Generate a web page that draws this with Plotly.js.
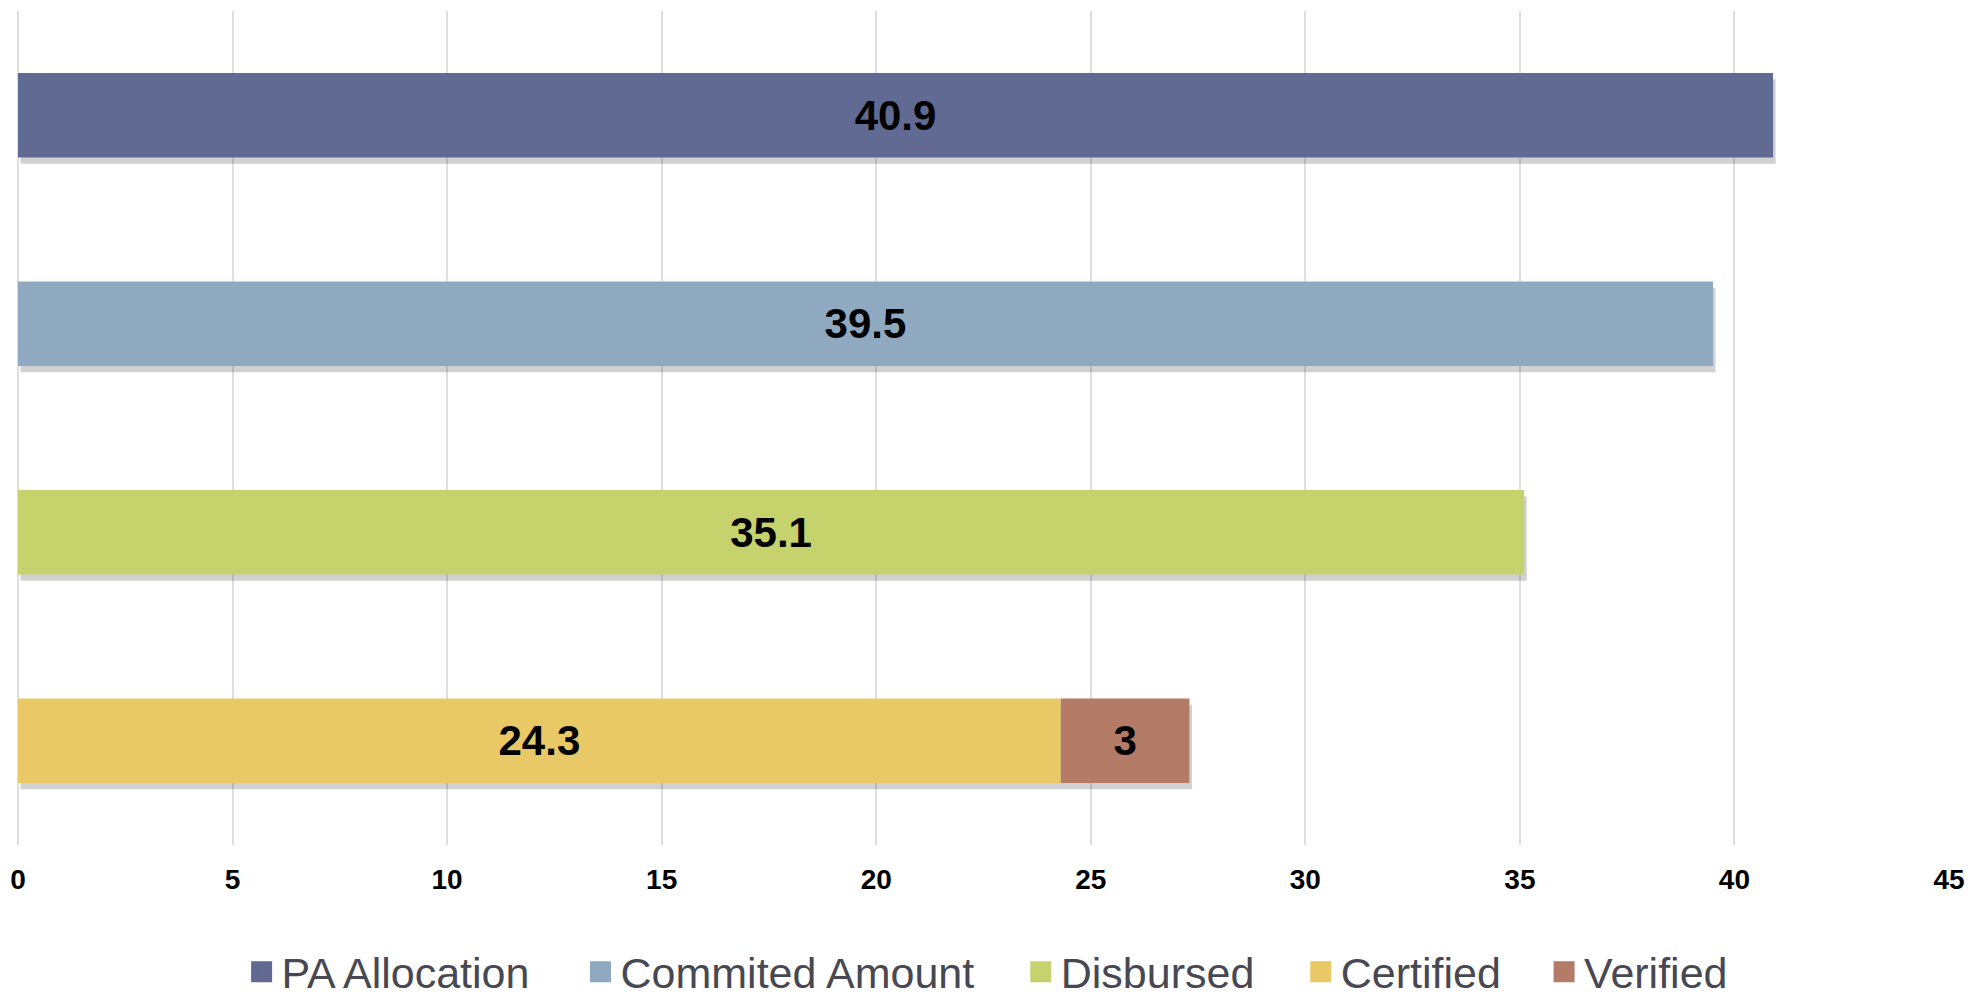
<!DOCTYPE html>
<html>
<head>
<meta charset="utf-8">
<script src="https://cdn.plot.ly/plotly-3.0.1.min.js"></script>
<style>html,body{margin:0;padding:0;background:#fff;}#chart{width:1970px;height:996px;}</style>
</head>
<body>
<div id="chart"></div>
<script>
// Data
var rows = ["PA Allocation", "Commited Amount", "Disbursed", "Certified"];
var seriesNames = ["PA Allocation", "Commited Amount", "Disbursed", "Certified", "Verified"];
var seriesRows = ["PA Allocation", "Commited Amount", "Disbursed", "Certified", "Certified"];
var seriesValues = [40.9, 39.5, 35.1, 24.3, 3];
var seriesColors = ["#616a93", "#8fa9c1", "#c6d26c", "#e8c965", "#b47b67"];
var xTicks = [0, 5, 10, 15, 20, 25, 30, 35, 40, 45];

var FONT = '"Liberation Sans", Arial, sans-serif';
var barWidth = 0.405;
var legendX = [0.1158, 0.2913, 0.5193, 0.6643, 0.7903];

// stacking bases: series on the same row stack left to right
var bases = [];
var rowTotals = {};
for (var i = 0; i < seriesNames.length; i++) {
  var r = seriesRows[i];
  bases.push(rowTotals[r] || 0);
  rowTotals[r] = (rowTotals[r] || 0) + seriesValues[i];
}

var traces = [];
// soft drop shadows
for (var i = 0; i < seriesNames.length; i++) {
  traces.push({
    type: 'bar', orientation: 'h',
    y: [seriesRows[i]], x: [seriesValues[i]], base: [bases[i] + 0.06],
    width: barWidth, offset: -barWidth / 2 + 0.03,
    marker: {color: 'rgba(0,0,0,0.18)', line: {width: 0}},
    showlegend: false, hoverinfo: 'skip'
  });
}
for (var i = 0; i < seriesNames.length; i++) {
  traces.push({
    type: 'bar', orientation: 'h', name: seriesNames[i],
    y: [seriesRows[i]], x: [seriesValues[i]], base: [bases[i]],
    width: barWidth,
    marker: {color: seriesColors[i], line: {width: 0}},
    text: [String(seriesValues[i])], textposition: 'inside',
    insidetextanchor: 'middle', textangle: 0,
    textfont: {family: FONT, size: 42, color: '#000', weight: 'bold'},
    showlegend: false, hoverinfo: 'x+name'
  });
}
var layout = {
  width: 1970, height: 996,
  margin: {l: 18, r: 21, t: 11, b: 151, autoexpand: false},
  paper_bgcolor: '#fff', plot_bgcolor: '#fff',
  barmode: 'overlay',
  xaxis: {
    range: [0, 45], tickvals: xTicks, ticktext: xTicks.map(String),
    showgrid: true, gridcolor: '#dedede', gridwidth: 2,
    zeroline: true, zerolinecolor: '#dedede', zerolinewidth: 2,
    showline: false, ticks: '',
    tickfont: {family: FONT, size: 28, color: '#000', weight: 'bold'},
    ticklabelstandoff: 15
  },
  yaxis: {
    type: 'category', categoryorder: 'array', categoryarray: rows,
    autorange: 'reversed', showticklabels: false, showgrid: false,
    zeroline: false, showline: false, ticks: ''
  },
  showlegend: true
};
// legend entries (one legend per series so spacing matches)
for (var i = 0; i < seriesNames.length; i++) {
  var key = i === 0 ? 'legend' : 'legend' + (i + 1);
  traces.push({
    type: 'scatter', mode: 'markers', name: seriesNames[i],
    x: [null], y: [null], legend: key,
    marker: {symbol: 'square', size: 16, color: seriesColors[i],
             line: {width: 5, color: seriesColors[i]}},
    showlegend: true, hoverinfo: 'skip'
  });
  layout[key] = {
    orientation: 'h', x: legendX[i], xanchor: 'left', y: -0.152, yanchor: 'middle',
    font: {family: FONT, size: 43, color: '#484852'},
    itemsizing: 'trace', bgcolor: 'rgba(0,0,0,0)'
  };
}

Plotly.newPlot('chart', traces, layout, {displayModeBar: false, staticPlot: true});
</script>
</body>
</html>
